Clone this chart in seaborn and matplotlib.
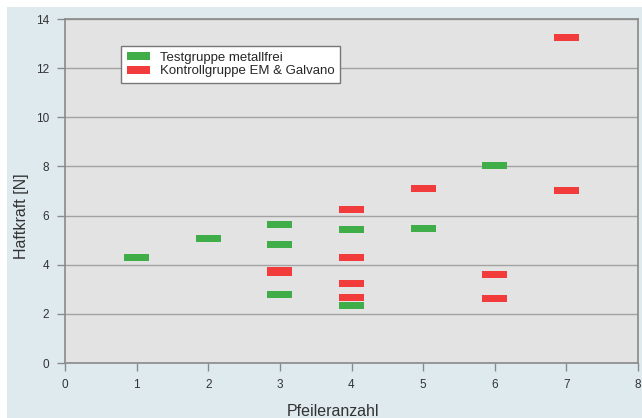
import numpy as np
import pandas as pd
import matplotlib
matplotlib.use('Agg')
import matplotlib.pyplot as plt
from matplotlib.path import Path
from matplotlib.patches import Patch, Rectangle
import seaborn as sns

# Data
test_x = [1, 2, 3, 3, 3, 4, 4, 5, 6]
test_y = [4.28, 5.08, 5.62, 4.81, 2.77, 5.43, 2.34, 5.49, 8.04]
ctrl_x = [3, 3, 4, 4, 4, 4, 5, 6, 6, 7, 7]
ctrl_y = [3.67, 3.76, 6.25, 4.30, 3.22, 2.66, 7.10, 3.60, 2.63, 13.25, 7.03]
groups = ['Testgruppe metallfrei', 'Kontrollgruppe EM & Galvano']
x_ticks = [0, 1, 2, 3, 4, 5, 6, 7, 8]
y_ticks = [0, 2, 4, 6, 8, 10, 12, 14]

green = '#3fae48'
red = '#f23b3b'

df = pd.DataFrame({
    'Pfeileranzahl': test_x + ctrl_x,
    'Haftkraft': test_y + ctrl_y,
    'Gruppe': [groups[0]] * len(test_x) + [groups[1]] * len(ctrl_x),
})

sns.set_style('white')
plt.rcParams['font.family'] = ['Liberation Sans', 'DejaVu Sans']

fig = plt.figure(figsize=(6.42, 4.18), dpi=100, facecolor='white')
# light blue panel behind the chart, leaving a thin white strip top and left
fig.patches.append(Rectangle((7 / 642, 0), 1, 411 / 418, transform=fig.transFigure,
                             facecolor='#dfeaef', edgecolor='none', zorder=-10))
ax = fig.add_axes([65 / 642, 55 / 418, 573 / 642, 344 / 418])
ax.set_zorder(1)
ax.set_facecolor('#e3e3e3')

# flat horizontal bar marker
bar = Path([(-1, -0.28), (1, -0.28), (1, 0.28), (-1, 0.28), (-1, -0.28)],
           [Path.MOVETO, Path.LINETO, Path.LINETO, Path.LINETO, Path.CLOSEPOLY])

sns.scatterplot(data=df, x='Pfeileranzahl', y='Haftkraft', hue='Gruppe',
                palette={groups[0]: green, groups[1]: red}, marker=bar, s=330,
                linewidth=0, legend=False, ax=ax, zorder=3)

ax.set_xlim(0, 8)
ax.set_ylim(0, 14)
ax.set_xticks(x_ticks)
ax.set_yticks(y_ticks)
ax.grid(axis='y', color='#a2a2a2', linewidth=1.0)
ax.set_axisbelow(True)
for side in ['left', 'bottom', 'right', 'top']:
    ax.spines[side].set_color('#8a8a8a')
    ax.spines[side].set_linewidth(1.2)
ax.tick_params(axis='both', direction='out', length=5.5, width=1, color='#8a8a8a',
               labelsize=8.5, labelcolor='#333333', pad=6, left=True, bottom=True)

ax.set_xlabel('Pfeileranzahl', fontsize=11.5, color='#333333')
ax.set_ylabel('Haftkraft [N]', fontsize=11.5, color='#333333')
ax.xaxis.set_label_coords(0.468, -0.12)
ax.yaxis.set_label_coords(-0.062, 0.427)

handles = [Patch(facecolor=green, edgecolor='none'), Patch(facecolor=red, edgecolor='none')]
leg = ax.legend(handles, groups, loc='upper left', bbox_to_anchor=(0.097, 0.922),
                borderaxespad=0, fontsize=9.5, frameon=True, fancybox=False,
                handlelength=1.8, handleheight=0.55, handletextpad=0.7,
                labelspacing=0.12, borderpad=0.45)
leg.get_frame().set_edgecolor('#777777')
leg.get_frame().set_linewidth(1)
leg.get_frame().set_facecolor('white')
leg.get_frame().set_alpha(1)

fig.savefig('out.png', dpi=100, facecolor=fig.get_facecolor())
